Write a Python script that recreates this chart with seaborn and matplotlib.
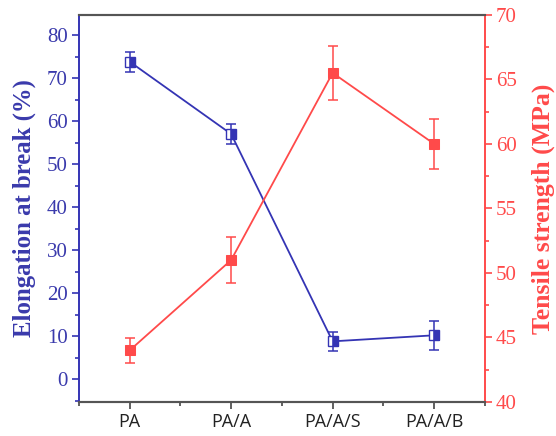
import numpy as np
import pandas as pd
import matplotlib
matplotlib.use("Agg")
import matplotlib.pyplot as plt
import seaborn as sns
from matplotlib.ticker import MultipleLocator

# datos
muestras = ["PA", "PA/A", "PA/A/S", "PA/A/B"]
elongacion = [73.8, 57.0, 8.8, 10.2]
elongacion_err = [2.3, 2.4, 2.2, 3.4]
tension = [44.0, 51.0, 65.5, 60.0]
tension_err = [0.95, 1.8, 2.1, 1.95]

azul = "#3434b4"
azul_txt = "#3a3aac"
rojo = "#ff4a4a"

df = pd.DataFrame({
    "pos": np.arange(len(muestras)),
    "Muestra": muestras,
    "Elongacion": elongacion,
    "Tension": tension,
})

sns.set_style("white")
serif = ["Liberation Serif", "DejaVu Serif"]

fig = plt.figure(figsize=(5.56, 4.36), dpi=100)
ax = fig.add_axes([0.142, 0.078, 0.73, 0.888])
ax2 = ax.twinx()

# elongacion (eje izquierdo)
sns.lineplot(data=df, x="pos", y="Elongacion", ax=ax, color=azul, lw=1.3,
             marker="s", markersize=7, fillstyle="right",
             markerfacecoloralt="white", markeredgecolor=azul,
             markerfacecolor=azul, markeredgewidth=1.0)
ax.errorbar(df["pos"], df["Elongacion"], yerr=elongacion_err, fmt="none",
            ecolor=azul, elinewidth=1.1, capsize=3.5, capthick=1.1)

# tension (eje derecho)
sns.lineplot(data=df, x="pos", y="Tension", ax=ax2, color=rojo, lw=1.3,
             marker="s", markersize=6.5, markeredgecolor=rojo,
             markerfacecolor=rojo)
ax2.errorbar(df["pos"], df["Tension"], yerr=tension_err, fmt="none",
             ecolor=rojo, elinewidth=1.1, capsize=3.5, capthick=1.1)

ax.set_xlim(-0.5, 3.5)
ax2.set_ylim(40, 70)

ax.set_xticks(df["pos"])
ax.set_xticklabels(muestras, fontsize=13, family=["Open Sans", "DejaVu Sans"],
                   color="#222222")
ax.xaxis.set_minor_locator(MultipleLocator(0.5))
ax.set_xlabel("")

ax.set_yticks(range(0, 81, 10))
ax.yaxis.set_minor_locator(MultipleLocator(5))
ax.set_ylim(-5.3, 84.7)
ax2.yaxis.set_major_locator(MultipleLocator(5))
ax2.yaxis.set_minor_locator(MultipleLocator(2.5))

for lab in ax.get_yticklabels():
    lab.set_family(serif)
    lab.set_fontsize(15)
    lab.set_color(azul_txt)
for lab in ax2.get_yticklabels():
    lab.set_family(serif)
    lab.set_fontsize(15)
    lab.set_color(rojo)

ax.set_ylabel("Elongation at break (%)", family=serif, fontsize=17.8,
              fontweight="bold", color=azul_txt)
ax2.set_ylabel("Tensile strength (MPa)", family=serif, fontsize=18.5,
               fontweight="bold", color=rojo)
ax.yaxis.set_label_coords(-0.105, 0.5)
ax2.yaxis.set_label_coords(1.115, 0.5)

ax.tick_params(axis="x", which="major", direction="out", length=5, width=1.2,
               color="#444444", bottom=True, pad=3)
ax.tick_params(axis="x", which="minor", direction="out", length=3, width=1.2,
               color="#444444", bottom=True)
ax.tick_params(axis="y", which="major", direction="out", length=5, width=1.2,
               color=azul, left=True, pad=3)
ax.tick_params(axis="y", which="minor", direction="out", length=3, width=1.2,
               color=azul, left=True)
ax2.tick_params(axis="y", which="major", direction="out", length=5, width=1.2,
                color=rojo, right=True, pad=3)
ax2.tick_params(axis="y", which="minor", direction="out", length=3, width=1.2,
                color=rojo, right=True)

for a in (ax, ax2):
    a.spines["top"].set_color("#555555")
    a.spines["bottom"].set_color("#555555")
    a.spines["top"].set_linewidth(1.5)
    a.spines["bottom"].set_linewidth(1.5)
    a.spines["left"].set_color(azul)
    a.spines["right"].set_color(rojo)
    a.spines["left"].set_linewidth(1.2)
    a.spines["right"].set_linewidth(1.2)

fig.savefig("out.png", dpi=100)
